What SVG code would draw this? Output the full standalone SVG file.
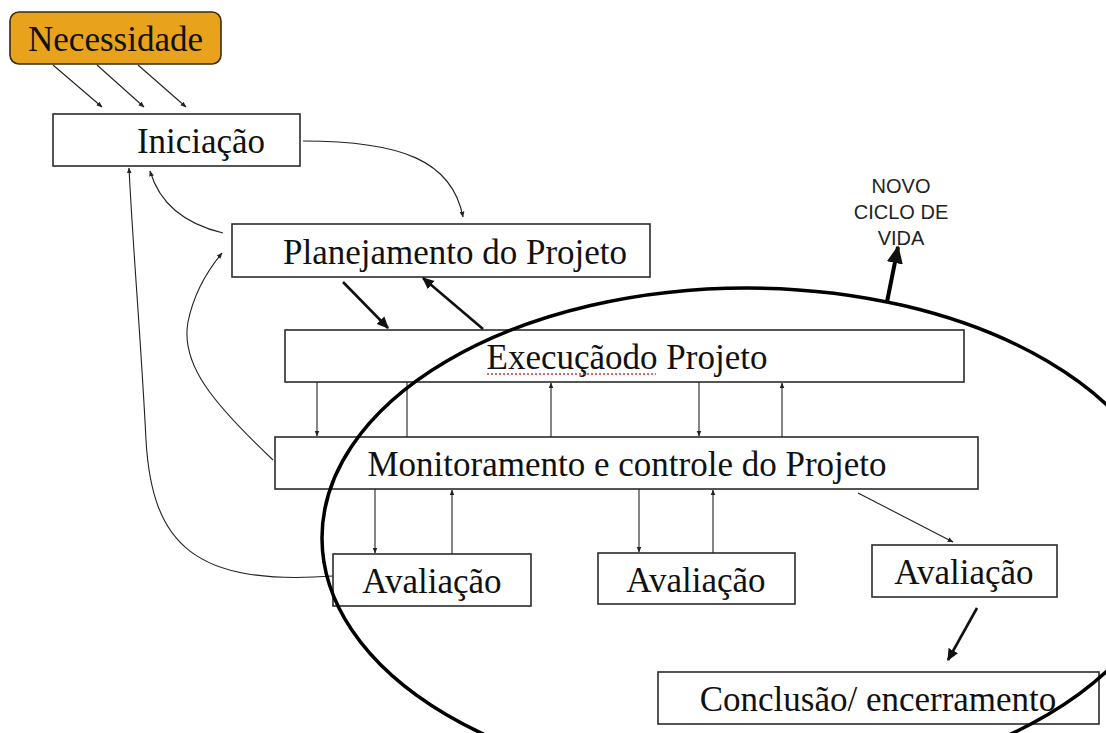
<svg xmlns="http://www.w3.org/2000/svg" width="1106" height="733" viewBox="0 0 1106 733">
<style>
.box{fill:#fff;stroke:#2b2b2b;stroke-width:1.6}
.t{font-family:"Liberation Serif","Times New Roman",serif;font-size:35px;fill:#111;text-anchor:middle}
.thin{fill:none;stroke:#222;stroke-width:1.1}
.thick{fill:none;stroke:#111;stroke-width:2.6}
.s{font-family:"Liberation Sans",Arial,sans-serif;font-size:20px;fill:#222;text-anchor:middle}
</style>
<defs>
<marker id="a" viewBox="0 0 10 10" refX="9" refY="5" markerWidth="6" markerHeight="6" orient="auto" markerUnits="userSpaceOnUse"><path d="M0,1 L10,5 L0,9 z" fill="#222"/></marker>
<marker id="b" viewBox="0 0 10 10" refX="9" refY="5" markerWidth="12" markerHeight="12" orient="auto" markerUnits="userSpaceOnUse"><path d="M0,0.5 L10,5 L0,9.5 z" fill="#111"/></marker>
<marker id="c" viewBox="0 0 10 10" refX="9" refY="5" markerWidth="18" markerHeight="18" orient="auto" markerUnits="userSpaceOnUse"><path d="M0,0.5 L10,5 L0,9.5 z" fill="#111"/></marker>
</defs>
<g id="nodes">
<g id="necessidade"><rect x="10" y="12" width="211" height="52" rx="9" fill="#E8A21C" stroke="#3a2a10" stroke-width="1.6"/><text class="t" x="115.5" y="51">Necessidade</text></g>
<g id="iniciacao"><rect class="box" x="53" y="114" width="247" height="52"/><text class="t" x="201" y="153">Iniciação</text></g>
<g id="planejamento"><rect class="box" x="232" y="224" width="418" height="53"/><text class="t" x="455" y="264">Planejamento do Projeto</text></g>
<g id="execucao"><rect class="box" x="285" y="330" width="679" height="52"/><text class="t" x="627" y="369">Execuçãodo Projeto</text><line x1="487" y1="374" x2="656" y2="374" stroke="#e03030" stroke-width="1.5" stroke-dasharray="2,2"/></g>
<g id="monitoramento"><rect class="box" x="275" y="437" width="703" height="52"/><text class="t" x="627" y="476">Monitoramento e controle do Projeto</text></g>
<g id="avaliacao1"><rect class="box" x="333" y="554" width="198" height="52"/><text class="t" x="432" y="593">Avaliação</text></g>
<g id="avaliacao2"><rect class="box" x="598" y="553" width="197" height="51"/><text class="t" x="696" y="592">Avaliação</text></g>
<g id="avaliacao3"><rect class="box" x="872" y="545" width="185" height="52"/><text class="t" x="964" y="584">Avaliação</text></g>
<g id="conclusao"><rect class="box" x="658" y="672" width="441" height="52"/><text class="t" x="878" y="711">Conclusão/ encerramento</text></g>
<g id="novo-ciclo"><text class="s" x="901" y="193">NOVO</text><text class="s" x="901" y="219">CICLO DE</text><text class="s" x="901" y="245">VIDA</text></g>
</g>
<g id="connectors">
<line class="thin" x1="53" y1="65" x2="102" y2="107" marker-end="url(#a)"/>
<line class="thin" x1="97" y1="65" x2="144" y2="107" marker-end="url(#a)"/>
<line class="thin" x1="138" y1="65" x2="186" y2="107" marker-end="url(#a)"/>
<path class="thin" d="M303,141 C400,141 452,160 463,217" marker-end="url(#a)"/>
<path class="thin" d="M223,233 C185,224 160,205 150,171" marker-end="url(#a)"/>
<path class="thin" d="M273,460 C215,405 180,365 188,322 C194,292 208,270 222,253" marker-end="url(#a)"/>
<path class="thin" d="M333,576 C195,586 152,545 146,440 C141,340 133,250 129,168" marker-end="url(#a)"/>
<line class="thick" x1="343" y1="282" x2="388" y2="328" marker-end="url(#b)"/>
<line class="thick" x1="483" y1="329" x2="423" y2="278" marker-end="url(#b)"/>
<line class="thin" x1="317" y1="382" x2="317" y2="436" marker-end="url(#a)"/>
<line class="thin" x1="407" y1="437" x2="407" y2="382"/>
<line class="thin" x1="551" y1="437" x2="551" y2="383" marker-end="url(#a)"/>
<line class="thin" x1="699" y1="382" x2="699" y2="436" marker-end="url(#a)"/>
<line class="thin" x1="782" y1="437" x2="782" y2="383" marker-end="url(#a)"/>
<line class="thin" x1="375" y1="489" x2="375" y2="553" marker-end="url(#a)"/>
<line class="thin" x1="452" y1="554" x2="452" y2="490" marker-end="url(#a)"/>
<line class="thin" x1="639" y1="489" x2="639" y2="552" marker-end="url(#a)"/>
<line class="thin" x1="713" y1="553" x2="713" y2="490" marker-end="url(#a)"/>
<line class="thin" x1="858" y1="493" x2="953" y2="542" marker-end="url(#a)"/>
<line class="thick" x1="977" y1="608" x2="948" y2="660" marker-end="url(#b)"/>
<ellipse cx="747" cy="538" rx="425" ry="250" fill="none" stroke="#000" stroke-width="3.5"/>
<line x1="887" y1="302" x2="898" y2="247" stroke="#000" stroke-width="4" marker-end="url(#c)"/>
</g>
</svg>
